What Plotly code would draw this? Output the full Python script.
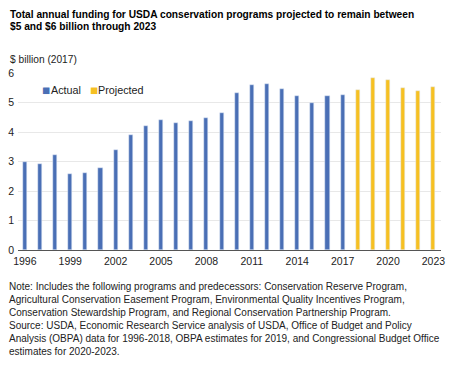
import plotly.graph_objects as go

years_actual = list(range(1996, 2018))
values_actual = [2.97, 2.91, 3.21, 2.58, 2.60, 2.78, 3.40, 3.90, 4.22, 4.41, 4.29,
                 4.37, 4.48, 4.63, 5.32, 5.58, 5.64, 5.47, 5.21, 4.99, 5.23, 5.26]
years_proj = list(range(2018, 2024))
values_proj = [5.43, 5.84, 5.77, 5.49, 5.40, 5.54]
tick_years = [1996, 1999, 2002, 2005, 2008, 2011, 2014, 2017, 2020, 2023]

BLUE = "#4a6fb5"
GOLD = "#f6c022"
FONT = "Liberation Sans, Arial, sans-serif"

fig = go.Figure()
fig.add_trace(go.Bar(x=years_actual, y=values_actual, marker_color=BLUE,
                     width=0.27, name="Actual", showlegend=False))
fig.add_trace(go.Bar(x=years_proj, y=values_proj, marker_color=GOLD,
                     width=0.27, name="Projected", showlegend=False))

W, H = 451, 371
L, R, T, B = 18, 10, 73, 121

def px(x):
    return (x - L) / (W - L - R)

def py(y):
    return 1 - (y - T) / (H - T - B)

annotations = []
title_lines = ["Total annual funding for USDA conservation programs projected to remain between",
               "$5 and $6 billion through 2023"]
for i, line in enumerate(title_lines):
    annotations.append(dict(text="<b>" + line + "</b>", x=px(8), y=py(14 + 12.2 * i),
                            xref="paper", yref="paper", xanchor="left", yanchor="middle",
                            showarrow=False, font=dict(family=FONT, size=10.2, color="#000")))
annotations.append(dict(text="$ billion (2017)", x=px(8), y=py(59.5), xref="paper", yref="paper",
                        xanchor="left", yanchor="middle", showarrow=False,
                        font=dict(family=FONT, size=10.2, color="#222")))
# legend
for label, color, mx, tx in [("Actual", BLUE, 45.5, 48.5), ("Projected", GOLD, 93.5, 96)]:
    annotations.append(dict(text="■", x=px(mx), y=py(90), xref="paper", yref="paper",
                            xanchor="center", yanchor="middle", showarrow=False,
                            font=dict(family="DejaVu Sans", size=8.5, color=color)))
    annotations.append(dict(text=label, x=px(tx), y=py(90), xref="paper", yref="paper",
                            xanchor="left", yanchor="middle", showarrow=False,
                            font=dict(family=FONT, size=10.8, color="#222")))
note = ("Note: Includes the following programs and predecessors: Conservation Reserve Program,<br>"
        "Agricultural Conservation Easement Program, Environmental Quality Incentives Program,<br>"
        "Conservation Stewardship Program, and Regional Conservation Partnership Program.<br>"
        "Source: USDA, Economic Research Service analysis of USDA, Office of Budget and Policy<br>"
        "Analysis (OBPA) data for 1996-2018, OBPA estimates for 2019, and Congressional Budget Office<br>"
        "estimates for 2020-2023.")
annotations.append(dict(text=note, x=px(7), y=py(278.5), xref="paper", yref="paper",
                        xanchor="left", yanchor="top", align="left", showarrow=False,
                        font=dict(family=FONT, size=10.0, color="#222")))

fig.update_layout(
    width=W, height=H, margin=dict(l=L, r=R, t=T, b=B, autoexpand=False),
    paper_bgcolor="white", plot_bgcolor="white",
    font=dict(family=FONT, size=10.5, color="#222"),
    bargap=0,
    xaxis=dict(range=[1995.55, 2023.5], tickvals=tick_years, ticks="", showgrid=False,
               showline=False, zeroline=False, tickfont=dict(size=10.5), ticklabelstandoff=3,
               automargin=False),
    yaxis=dict(range=[0, 6], dtick=1, showgrid=True, gridcolor="#e8e8e8", gridwidth=1,
               zeroline=True, zerolinecolor="#555", zerolinewidth=1, ticks="",
               tickfont=dict(size=10.5), ticklabelstandoff=3, automargin=False),
    annotations=annotations,
)
fig.write_html("out.html", config={"displayModeBar": False},
               post_script="document.body.style.margin='0';")
